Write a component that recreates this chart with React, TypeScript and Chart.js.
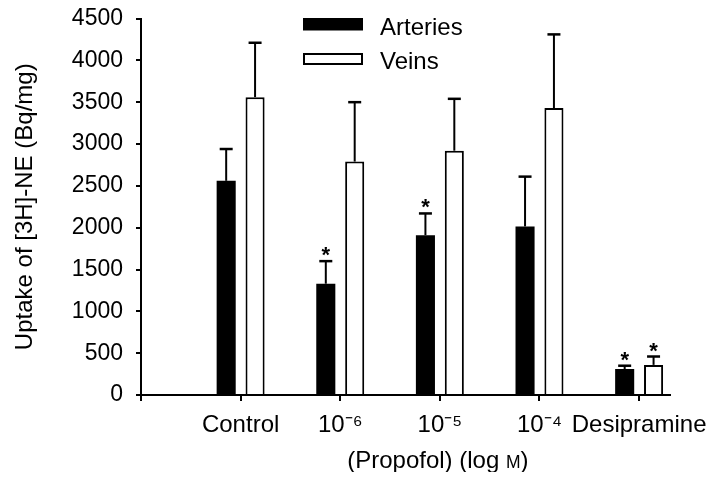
import { useEffect, useRef } from 'react';
import { Chart, registerables } from 'chart.js';

Chart.register(...registerables);

const FONT = '"Liberation Sans", Arial, Helvetica, sans-serif';

// ---- data ----
const categories = ['Control', '10⁻⁶', '10⁻⁵', '10⁻⁴', 'Desipramine'];
const seriesLabels = ['Arteries', 'Veins'];
const arteries = [2560, 1330, 1910, 2015, 310];
const arteriesSD = [380, 270, 260, 595, 40];
const veins = [3560, 2790, 2920, 3430, 360];
const veinsSD = [650, 710, 620, 880, 100];
const arteriesSignificant = [false, true, true, false, true];
const veinsSignificant = [false, false, false, false, true];
const yTicks = [0, 500, 1000, 1500, 2000, 2500, 3000, 3500, 4000, 4500];
const yTitle = 'Uptake of [3H]-NE (Bq/mg)';
const xTitleParts = ['(Propofol) (log ', 'M', ')'];

const errorBarPlugin = {
  id: 'errorBarsAndStars',
  afterDatasetsDraw(chart: any) {
    const ctx = chart.ctx;
    const yScale = chart.scales.y;
    chart.data.datasets.forEach((ds: any, di: number) => {
      const meta = chart.getDatasetMeta(di);
      meta.data.forEach((bar: any, i: number) => {
        const value = ds.data[i].y;
        const top = yScale.getPixelForValue(value + ds.errors[i]);
        ctx.save();
        ctx.strokeStyle = '#000';
        ctx.lineWidth = 2;
        ctx.beginPath();
        ctx.moveTo(bar.x, bar.y);
        ctx.lineTo(bar.x, top);
        ctx.stroke();
        ctx.lineWidth = 2.5;
        ctx.beginPath();
        ctx.moveTo(bar.x - 6.5, top);
        ctx.lineTo(bar.x + 6.5, top);
        ctx.stroke();
        if (ds.significant[i]) {
          ctx.fillStyle = '#000';
          ctx.font = `bold 22px ${FONT}`;
          ctx.textAlign = 'center';
          ctx.textBaseline = 'alphabetic';
          ctx.fillText('*', bar.x, top + 1);
        }
        ctx.restore();
      });
    });
  },
};

const legendAndTitlePlugin = {
  id: 'customLegendTitle',
  afterDraw(chart: any) {
    const ctx = chart.ctx;
    ctx.save();
    // legend
    const ds = chart.data.datasets;
    ctx.fillStyle = '#000';
    ctx.fillRect(295, 10, 60, 12.5);
    ctx.strokeStyle = '#000';
    ctx.lineWidth = 2;
    ctx.strokeRect(296, 46, 58, 10);
    ctx.font = `24px ${FONT}`;
    ctx.textAlign = 'left';
    ctx.textBaseline = 'alphabetic';
    ctx.fillText(ds[0].label, 372, 26.5);
    ctx.fillText(ds[1].label, 372, 60.5);

    // x-axis title centred on the middle category
    const xScale = chart.scales.x;
    const cx = xScale.getPixelForValue(3) - 2;
    const big = `24px ${FONT}`;
    const small = `17.5px ${FONT}`;
    ctx.font = big;
    const w0 = ctx.measureText(xTitleParts[0]).width;
    const w2 = ctx.measureText(xTitleParts[2]).width;
    ctx.font = small;
    const w1 = ctx.measureText(xTitleParts[1]).width;
    let x = cx - (w0 + w1 + w2) / 2;
    const baseY = 460;
    ctx.font = big;
    ctx.fillText(xTitleParts[0], x, baseY);
    x += w0;
    ctx.font = small;
    ctx.fillText(xTitleParts[1], x, baseY);
    x += w1;
    ctx.font = big;
    ctx.fillText(xTitleParts[2], x, baseY);
    ctx.restore();
  },
};

export default function App() {
  const canvasRef = useRef<HTMLCanvasElement | null>(null);

  useEffect(() => {
    if (!canvasRef.current) return;
    Chart.defaults.font.family = FONT;
    const chart = new Chart(canvasRef.current, {
      type: 'bar',
      data: {
        datasets: [
          {
            label: seriesLabels[0],
            data: categories.map((_, i) => ({ x: i + 1, y: arteries[i] })),
            backgroundColor: '#000',
            borderColor: '#000',
            borderWidth: 0,
            errors: arteriesSD,
            significant: arteriesSignificant,
          } as any,
          {
            label: seriesLabels[1],
            data: categories.map((_, i) => ({ x: i + 1, y: veins[i] })),
            backgroundColor: '#fff',
            borderColor: '#000',
            borderWidth: 2,
            errors: veinsSD,
            significant: veinsSignificant,
          } as any,
        ],
      },
      options: {
        animation: false,
        responsive: true,
        maintainAspectRatio: false,
        categoryPercentage: 0.58,
        barPercentage: 0.66,
        layout: { padding: { top: 10.5, right: 36, left: 0, bottom: 0 } },
        plugins: {
          legend: { display: false },
          tooltip: { enabled: false },
        },
        scales: {
          x: {
            type: 'linear',
            offset: false,
            min: 0,
            max: 5.31,
            afterBuildTicks: (s: any) => {
              s.ticks = [0, ...categories.map((_, i) => i + 1)].map((v) => ({ value: v }));
            },
            afterFit: (s: any) => {
              s.height = 85;
              s.paddingLeft = 0;
              s.paddingRight = 0;
            },
            grid: {
              display: true,
              offset: false,
              drawOnChartArea: false,
              drawTicks: true,
              tickLength: 6,
              color: '#000',
              lineWidth: 2,
            },
            border: { display: true, color: '#000', width: 2 },
            ticks: {
              autoSkip: false,
              maxRotation: 0,
              minRotation: 0,
              padding: 10,
              color: '#000',
              font: { size: 24 },
              callback: (v: any) => (v === 0 ? '' : categories[v - 1] ?? ''),
            },
          },
          y: {
            min: 0,
            max: 4500,
            afterBuildTicks: (s: any) => {
              s.ticks = yTicks.map((v) => ({ value: v }));
            },
            afterFit: (s: any) => {
              s.width = 133;
              s.paddingTop = 0;
              s.paddingBottom = 0;
            },
            grid: {
              display: true,
              drawOnChartArea: false,
              drawTicks: true,
              tickLength: 5,
              color: '#000',
              lineWidth: 2,
            },
            border: { display: true, color: '#000', width: 2 },
            ticks: {
              padding: 13,
              color: '#000',
              font: { size: 23, lineHeight: 1 },
              callback: (v: any) => String(v),
            },
            title: {
              display: true,
              text: yTitle,
              color: '#000',
              font: { size: 24 },
              padding: { top: 3, bottom: 0 },
            },
          },
        },
      } as any,
      plugins: [errorBarPlugin, legendAndTitlePlugin],
    });
    return () => chart.destroy();
  }, []);

  return (
    <div style={{ width: 698, height: 472, marginBottom: -8, position: 'relative' }}>
      <canvas ref={canvasRef} />
    </div>
  );
}
